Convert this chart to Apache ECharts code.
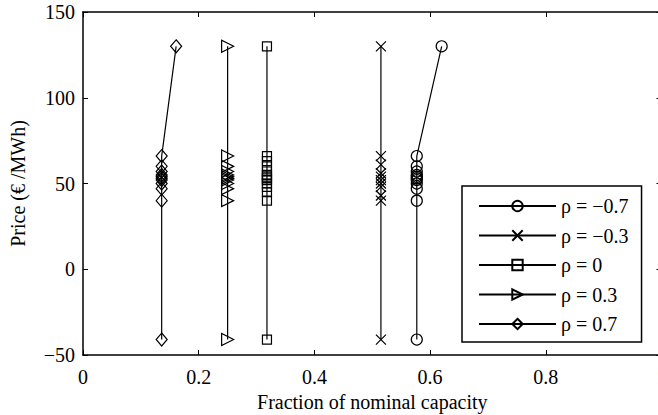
<!DOCTYPE html>
<html>
<head>
<meta charset="utf-8">
<script src="https://cdn.jsdelivr.net/npm/echarts@6/dist/echarts.min.js"></script>
<style>
  html, body { margin: 0; padding: 0; background: #fff; }
  #chart { width: 658px; height: 415px; }
</style>
</head>
<body>
<div id="chart"></div>
<script>
var font = 'Liberation Serif';

// series data: capacity fraction (x) and price (y)
var circleX = [0.577, 0.577, 0.577, 0.577, 0.577, 0.577, 0.577, 0.577, 0.577, 0.577, 0.577, 0.62];
var circleY = [-41, 40, 47, 50, 52, 53, 54, 55, 57, 60, 66, 130];
var crossX = [0.515, 0.515, 0.515, 0.515, 0.515, 0.515, 0.515, 0.515, 0.515, 0.515, 0.515];
var crossY = [-41, 40, 43, 48, 50, 52, 54, 56, 61, 66, 130];
var squareX = [0.318, 0.318, 0.318, 0.318, 0.318, 0.318, 0.318, 0.318, 0.318, 0.318, 0.318, 0.318, 0.318, 0.318];
var squareY = [-41, 40, 45, 48, 50, 52, 53, 54, 55, 57, 60, 63, 66, 130];
var triX = [0.25, 0.25, 0.25, 0.25, 0.25, 0.25, 0.25, 0.25, 0.25, 0.25, 0.25, 0.25];
var triY = [-41, 40, 47, 50, 52, 53, 54, 55, 57, 60, 66, 130];
var diamondX = [0.136, 0.136, 0.136, 0.136, 0.136, 0.136, 0.136, 0.136, 0.136, 0.136, 0.136, 0.161];
var diamondY = [-41, 40, 47, 50, 52, 53, 54, 55, 57, 60, 66, 130];

var seriesNames = ['ρ = −0.7', 'ρ = −0.3', 'ρ = 0', 'ρ = 0.3', 'ρ = 0.7'];
var xTicks = [0, 0.2, 0.4, 0.6, 0.8, 1];
var yTicks = [-50, 0, 50, 100, 150];

function pairs(xs, ys) {
  return xs.map(function(x, i) { return [x, ys[i]]; });
}

function mk(name, xs, ys, symbol, size, rotate) {
  return {
    name: name,
    type: 'line',
    data: pairs(xs, ys),
    symbol: symbol,
    symbolSize: size,
    symbolRotate: rotate || 0,
    showAllSymbol: true,
    lineStyle: { color: '#000', width: 1.2 },
    itemStyle: { color: 'transparent', borderColor: '#000', borderWidth: 1.2 },
    emphasis: { disabled: true },
    z: 3
  };
}

var chart = echarts.init(document.getElementById('chart'), null, { renderer: 'svg' });
var axisLine = { onZero: false, lineStyle: { color: '#000', width: 1.5 } };
var tick = { inside: true, length: 5, lineStyle: { color: '#000', width: 1 } };

chart.setOption({
  animation: false,
  textStyle: { fontFamily: font },
  grid: { left: 83, right: -3.5, top: 12, bottom: 60, outerBoundsMode: 'none', containLabel: false },
  legend: {
    orient: 'vertical',
    left: 462,
    top: 186,
    data: seriesNames,
    itemWidth: 77,
    itemHeight: 13,
    itemGap: 9.5,
    padding: [10, 13, 8, 16],
    backgroundColor: '#fff',
    borderColor: '#000',
    borderWidth: 1.5,
    borderRadius: 0,
    textStyle: { color: '#000', fontSize: 20, fontFamily: font, lineHeight: 20 }
  },
  xAxis: [{
    type: 'value',
    min: xTicks[0], max: xTicks[xTicks.length - 1], interval: 0.2,
    name: 'Fraction of nominal capacity',
    nameLocation: 'middle',
    nameGap: 35,
    nameTextStyle: { color: '#000', fontSize: 20, fontFamily: font },
    axisLine: axisLine,
    axisTick: tick,
    splitLine: { show: false },
    axisLabel: {
      color: '#000', fontSize: 20, fontFamily: font, margin: 12,
      formatter: function(v) { return String(Math.round(v * 10) / 10); }
    }
  }, {
    type: 'value',
    position: 'top',
    min: xTicks[0], max: xTicks[xTicks.length - 1], interval: 0.2,
    axisLine: axisLine,
    axisTick: tick,
    splitLine: { show: false },
    axisLabel: { show: false }
  }],
  yAxis: [{
    type: 'value',
    min: yTicks[0], max: yTicks[yTicks.length - 1], interval: 50,
    name: 'Price (€ /MWh)',
    nameLocation: 'middle',
    nameGap: 55,
    nameTextStyle: { color: '#000', fontSize: 20, fontFamily: font },
    axisLine: axisLine,
    axisTick: tick,
    splitLine: { show: false },
    axisLabel: {
      color: '#000', fontSize: 20, fontFamily: font, margin: 8,
      formatter: function(v) { return v < 0 ? '−' + Math.abs(v) : String(v); }
    }
  }, {
    type: 'value',
    position: 'right',
    min: yTicks[0], max: yTicks[yTicks.length - 1], interval: 50,
    axisLine: axisLine,
    axisTick: tick,
    splitLine: { show: false },
    axisLabel: { show: false }
  }],
  series: [
    mk(seriesNames[0], circleX, circleY, 'circle', 11),
    mk(seriesNames[1], crossX, crossY, 'path://M0,0L10,10M10,0L0,10', 10),
    mk(seriesNames[2], squareX, squareY, 'rect', 9),
    mk(seriesNames[3], triX, triY, 'triangle', 12, -90),
    mk(seriesNames[4], diamondX, diamondY, 'diamond', [11, 13])
  ]
});
window.addEventListener('resize', function() { chart.resize(); });
</script>
</body>
</html>
